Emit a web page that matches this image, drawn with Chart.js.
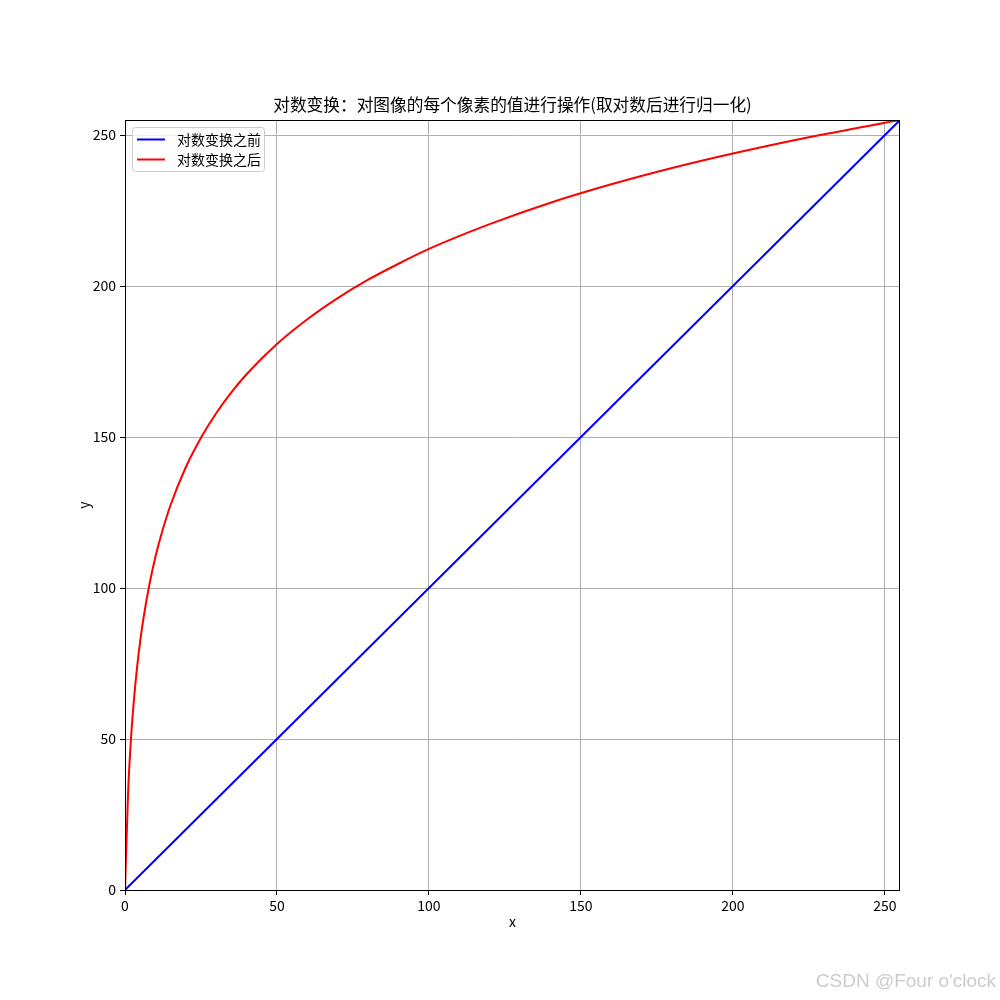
<!DOCTYPE html>
<html>
<head>
<meta charset="utf-8">
<script src="https://cdn.jsdelivr.net/npm/chart.js@4"></script>
<style>
  html, body { margin: 0; padding: 0; background: #fff; }
  canvas { display: block; }
</style>
</head>
<body>
<canvas id="chart" width="1000" height="1000"></canvas>
<script>
const chartTitle = '对数变换：对图像的每个像素的值进行操作(取对数后进行归一化)';
const watermark = "CSDN @Four o'clock";
const seriesLabels = ['对数变换之前', '对数变换之后'];

// identity line (before transform)
const beforeX = [0, 255];
const beforeY = [0, 255];

// log curve (after transform)
const afterX = [0, 1, 2, 3, 4, 5, 6, 8, 10, 12, 15, 20, 25, 30, 35, 40, 50, 60, 70, 80, 90, 100, 120, 140, 160, 180, 200, 225, 255];
const afterY = [0, 31.9, 50.5, 63.7, 74.0, 82.4, 89.5, 101.0, 110.3, 117.9, 127.5, 140.0, 149.8, 157.9, 164.8, 170.8, 180.8, 189.0, 196.0, 202.1, 207.4, 212.3, 220.5, 227.6, 233.7, 239.1, 243.9, 249.3, 255];

const xTicks = [0, 50, 100, 150, 200, 250];
const yTicks = [0, 50, 100, 150, 200, 250];

const FONT = "'Noto Sans CJK SC', 'DejaVu Sans', sans-serif";

function toPoints(xs, ys) {
    return xs.map((x, i) => ({x: x, y: ys[i]}));
}

// title, frame, legend and watermark drawn the matplotlib way
const decorPlugin = {
    id: 'decor',
    afterDatasetsDraw(chart) {
        const {ctx, chartArea: a} = chart;
        ctx.save();
        ctx.strokeStyle = '#000';
        ctx.lineWidth = 1;
        ctx.strokeRect(Math.round(a.left) + 0.5, Math.round(a.top) + 0.5,
            Math.round(a.right - a.left) - 1, Math.round(a.bottom - a.top));

        // legend
        const lx = 132.5, ly = 127.5, lw = 132, lh = 44;
        ctx.beginPath();
        ctx.roundRect(lx, ly, lw, lh, 3);
        ctx.fillStyle = 'rgba(255,255,255,0.8)';
        ctx.fill();
        ctx.strokeStyle = '#cccccc';
        ctx.stroke();
        ctx.font = '14px ' + FONT;
        ctx.textBaseline = 'middle';
        ctx.textAlign = 'left';
        chart.data.datasets.forEach((ds, i) => {
            const y = 139.5 + i * 20;
            ctx.beginPath();
            ctx.moveTo(137, y);
            ctx.lineTo(165, y);
            ctx.strokeStyle = ds.borderColor;
            ctx.lineWidth = 2;
            ctx.stroke();
            ctx.fillStyle = '#000';
            ctx.fillText(ds.label, 177, y);
        });

        // title
        ctx.font = '16.7px ' + FONT;
        ctx.textAlign = 'center';
        ctx.fillStyle = '#000';
        ctx.fillText(chartTitle, (a.left + a.right) / 2, 105);

        // watermark
        ctx.font = "19px 'Liberation Sans', Arial, sans-serif";
        ctx.textAlign = 'right';
        ctx.fillStyle = '#cccccc';
        ctx.fillText(watermark, 996, 982);
        ctx.restore();
    }
};

new Chart(document.getElementById('chart'), {
    type: 'line',
    plugins: [decorPlugin],
    data: {
        datasets: [
            {
                label: seriesLabels[0],
                data: toPoints(beforeX, beforeY),
                borderColor: '#0000ff',
                borderWidth: 2,
                pointRadius: 0,
                fill: false
            },
            {
                label: seriesLabels[1],
                data: toPoints(afterX, afterY),
                borderColor: '#ff0000',
                borderWidth: 2,
                pointRadius: 0,
                fill: false,
                cubicInterpolationMode: 'monotone'
            }
        ]
    },
    options: {
        responsive: false,
        animation: false,
        devicePixelRatio: 1,
        layout: {
            padding: {top: 120, left: 75, right: 100, bottom: 70}
        },
        plugins: {
            legend: {display: false},
            title: {display: false},
            tooltip: {enabled: false}
        },
        scales: {
            x: {
                type: 'linear',
                min: 0,
                max: 255,
                afterFit: scale => { scale.height = 40; },
                afterBuildTicks: scale => { scale.ticks = xTicks.map(v => ({value: v})); },
                grid: {color: '#b0b0b0', lineWidth: 1, tickColor: '#000', tickLength: 5},
                border: {display: false},
                ticks: {
                    font: {family: FONT, size: 14},
                    color: '#000',
                    padding: 2,
                    maxRotation: 0
                },
                title: {
                    display: true,
                    text: 'x',
                    font: {family: FONT, size: 14},
                    color: '#000',
                    padding: 0
                }
            },
            y: {
                type: 'linear',
                min: 0,
                max: 255,
                afterFit: scale => { scale.width = 50; },
                afterBuildTicks: scale => { scale.ticks = yTicks.map(v => ({value: v})); },
                grid: {color: '#b0b0b0', lineWidth: 1, tickColor: '#000', tickLength: 5},
                border: {display: false},
                ticks: {
                    font: {family: FONT, size: 14},
                    color: '#000',
                    padding: 4
                },
                title: {
                    display: true,
                    text: 'y',
                    font: {family: FONT, size: 14},
                    color: '#000',
                    padding: 0
                }
            }
        }
    }
});
</script>
</body>
</html>
